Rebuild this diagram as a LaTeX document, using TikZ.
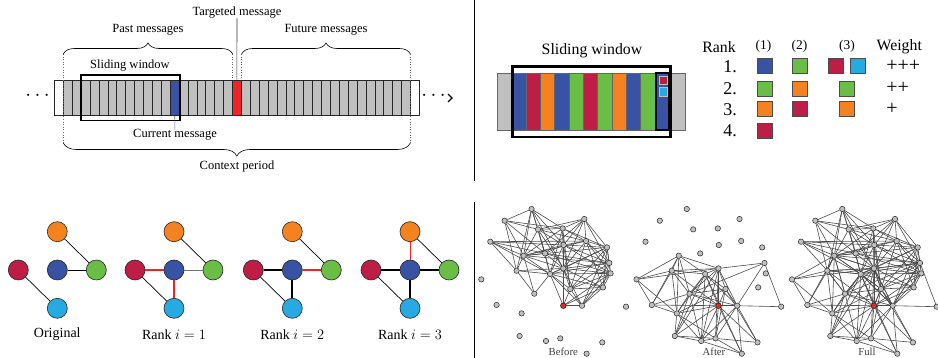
\documentclass[tikz,border=0pt]{standalone}
\usepackage{fontspec}
\setmainfont{Liberation Serif}
\usetikzlibrary{decorations.pathreplacing}

\definecolor{msgBlue}{HTML}{3953A4}
\definecolor{msgRed}{HTML}{BE1E45}
\definecolor{msgOrange}{HTML}{F58220}
\definecolor{msgGreen}{HTML}{6ABD45}
\definecolor{msgCyan}{HTML}{27AAE1}
\definecolor{msgTarget}{HTML}{EE2526}
\definecolor{msgGrey}{HTML}{C0C0C0}

\pgfdeclarelayer{edges}
\pgfsetlayers{edges,main}

% node positions of the message graph, relative to the targeted message
\def\netNodes{1/-31.7/-96.7, 2/-58.7/-85, 3/21/-86.7, 4/-25.3/-76.3, 5/-0.7/-77.3,
  6/-73/-64, 7/22.7/-64.7, 8/0.3/-60.7, 9/43.7/-58.3, 10/-39.7/-50, 11/-18.3/-52.3,
  12/46/-42.7, 13/-46.7/-35, 14/0/-37.3, 15/-13.3/-31.7, 16/47.3/-32.3, 17/-82/-26.3,
  18/7/-16.7, 19/39.7/-18.3, 20/-29/-12, 21/-66.7/-0.7, 22/0/0, 23/18.7/0, 24/62.7/1,
  25/-41.7/7.7, 26/-43.7/30.3, 27/-17.3/35.3, 28/-3/32.7, 29/39/36.7, 30/23.3/48}

% edges before and after the ranking
\def\beforeEdges{1/2, 1/4, 1/5, 1/10, 1/13, 1/11, 1/8, 1/14,
  2/4, 2/5, 2/10, 2/13, 2/11,
  3/4, 3/5, 3/7, 3/8, 3/9, 3/14, 3/12, 3/11,
  4/5, 4/10, 4/11, 4/8, 4/7, 4/14, 4/15,
  5/7, 5/8, 5/9, 5/10, 5/14, 5/15, 5/18,
  6/10, 6/13, 6/8, 6/7, 6/11, 6/15,
  7/8, 7/9, 7/12, 7/16, 7/14, 7/10, 7/18, 7/19,
  8/9, 8/10, 8/11, 8/14, 8/15, 8/18, 8/12, 8/16, 8/22,
  9/12, 9/16, 9/19, 9/14, 9/15, 9/18, 9/23, 9/10,
  10/11, 10/13, 10/14, 10/15, 10/20, 10/12,
  11/14, 11/15, 11/12, 11/16,
  12/14, 12/16, 12/18, 12/19, 12/23, 12/15,
  13/14, 13/15, 13/20,
  14/15, 14/16, 14/18, 14/19, 14/22, 14/23,
  15/20, 15/22, 15/18, 15/19, 15/16, 15/23,
  16/18, 16/19, 16/23, 16/22,
  18/19, 18/22, 18/23, 19/23, 19/22, 22/23}
\def\afterEdges{17/10, 17/13, 17/14, 17/21, 17/25,
  10/13, 10/14, 10/15, 10/25, 10/20, 10/21,
  13/14, 13/15, 13/20, 13/21, 13/25, 13/22,
  12/14, 12/23, 12/24, 12/20,
  14/15, 14/18, 14/20, 14/22, 14/23, 14/26, 14/27, 14/28,
  15/18, 15/20, 15/22, 15/23, 15/25, 15/26, 15/27, 15/30,
  18/20, 18/22, 18/23, 18/28, 18/29, 18/25,
  20/22, 20/23, 20/25, 20/26, 20/27,
  21/22, 21/25, 21/20,
  22/23, 22/25, 22/26, 22/27, 22/28, 22/29, 22/30,
  23/24, 23/29, 23/30, 23/27, 23/28,
  25/26, 25/27, 25/28, 26/27, 26/28, 27/28, 27/30, 28/29, 28/30}

\begin{document}
\begin{tikzpicture}[x=1pt, y=-1pt,
    lblA/.style={font=\fontsize{12.5}{14}\selectfont, inner sep=0pt},
    lblB/.style={font=\fontsize{15.8}{18}\selectfont, inner sep=0pt},
    lblC/.style={font=\fontsize{14}{16}\selectfont, inner sep=0pt},
    lblD/.style={font=\fontsize{10.7}{12}\selectfont, inner sep=0pt, text=black!75},
    cell/.style={draw=black!85, fill=msgGrey, line width=0.5pt, minimum width=8.9pt,
      minimum height=35.7pt, inner sep=0pt},
    wcell/.style={draw=black!60, line width=0.5pt, minimum width=14.33pt,
      minimum height=57.4pt, inner sep=0pt},
    sq/.style={draw=black!70, line width=0.5pt, minimum size=15pt, inner sep=0pt},
    mini/.style={draw=black!25, line width=0.6pt, minimum size=8.3pt, inner sep=0pt},
    msgBrace/.style={decorate, decoration={brace, amplitude=11pt}, line width=0.6pt},
    dotLine/.style={dotted, black!60, line width=0.6pt},
    cnode/.style={circle, draw=black!85, line width=0.6pt, minimum size=20pt, inner sep=0pt},
    thinE/.style={line width=0.7pt},
    thickE/.style={line width=1.8pt},
    hotE/.style={msgTarget, line width=1.8pt},
    netNode/.style={circle, draw=black!85, fill=msgGrey, line width=0.5pt,
      minimum size=5.4pt, inner sep=0pt},
    netEdge/.style={black!70, line width=0.6pt}]
  \useasboundingbox (0,0) rectangle (938,358);

  % Define the positions of the braces
  \coordinate (pastL) at (63.3,54);
  \coordinate (pastR) at (232.7,54);
  \coordinate (futL) at (241.6,54);
  \coordinate (futR) at (410.4,54);
  \coordinate (ctxL) at (63.3,143);
  \coordinate (ctxR) at (410.4,143);

  % Draw the message stream
  \node[cell, fill=white] (wl) at (58.8,97.85) {};
  \node[cell, fill=white] (wr) at (414.85,97.85) {};
  \foreach \i in {0,...,38}
    \node[cell] (c\i) at ({67.75+8.9*\i},97.85) {};
  \node[cell, fill=msgBlue] (cur) at ({67.75+8.9*12},97.85) {};
  \node[cell, fill=msgTarget] (tgt) at ({67.75+8.9*19},97.85) {};
  \node[draw, line width=1.6pt, minimum width=99pt, minimum height=45.4pt,
    inner sep=0pt] (win) at (130.5,98) {};
  \node[lblA, font=\fontsize{20}{20}\selectfont] (ldots) at (37.5,96) {$\cdots$};
  \node[lblA, font=\fontsize{20}{20}\selectfont] (rdots) at (433.5,96) {$\cdots$};
  \draw[line width=1.4pt] (448,94) -- (452,98) -- (448,102);

  % Draw the braces and the labels
  \draw[msgBrace] (pastL) -- (pastR);
  \draw[msgBrace] (futL) -- (futR);
  \draw[msgBrace, decoration={amplitude=13pt}] (ctxR) -- (ctxL);
  \draw[dotLine] (pastL) -- (ctxL);
  \draw[dotLine] (futR) -- (ctxR);
  \draw[dotLine] (pastR) -- (pastR |- c0.north);
  \draw[dotLine] (futL) -- (futL |- c0.north);
  \node[lblA] (pastLbl) at (148,30) {Past messages};
  \node[lblA] (futLbl) at (326,30) {Future messages};
  \node[lblA] (ctxLbl) at (237,166) {Context period};
  \node[lblA] (winLbl) at (130,66) {Sliding window};
  \node[lblA] (tgtLbl) at (237,12.5) {Targeted message};
  \node[lblA] (curLbl) at (175,135) {Current message};
  \draw[black!80, line width=0.6pt] (tgtLbl) -- (tgt);
  \draw[black!60, line width=0.6pt] (cur) -- (curLbl);

  % Draw the separators
  \draw[line width=1.2pt] (474.3,0) -- (474.3,180.7);
  \draw[line width=1.2pt] (474.3,201.7) -- (474.3,358);

  % Draw the coloured sliding window
  \node[wcell, fill=msgGrey, minimum width=187.3pt] (swBg) at (591.35,102) {};
  \foreach \col [count=\i from 0] in {msgBlue, msgRed, msgOrange, msgBlue, msgGreen,
      msgRed, msgGreen, msgOrange, msgBlue, msgGreen}
    \node[wcell, fill=\col] (w\i) at ({518.87+14.33*\i},102) {};
  \node[wcell, draw=black, line width=1.5pt, fill=msgBlue, minimum width=13.2pt,
    minimum height=57pt] (wCur) at (662.5,101.7) {};
  \node[mini, fill=msgRed] (mRed) at (663.5,80.2) {};
  \node[mini, fill=msgCyan] (mCyan) at (663.5,91.7) {};
  \node[draw, line width=2.6pt, minimum width=158pt, minimum height=70.7pt,
    inner sep=0pt] (bigWin) at (591.35,101.7) {};
  \node[lblB] (bigWinLbl) at (592,50.7) {Sliding window};

  % Draw the rank table
  \node[lblB] (rankHd) at (719,46.7) {Rank};
  \node[lblA, font=\fontsize{13.4}{15}\selectfont] (hd1) at (763.5,46.7) {(1)};
  \node[lblA, font=\fontsize{13.4}{15}\selectfont] (hd2) at (799.5,46.7) {(2)};
  \node[lblA, font=\fontsize{13.4}{15}\selectfont] (hd3) at (847,46.7) {(3)};
  \node[lblB] (weightHd) at (899.3,46.7) {Weight};
  \foreach \r/\y in {1/67, 2/88.5, 3/109.5, 4/131}
    \node[lblB, font=\fontsize{18}{20}\selectfont, anchor=east] (row\r) at (737,\y) {\r.};
  \node[sq, fill=msgBlue] (s11) at (764.3,66) {};
  \node[sq, fill=msgGreen] (s12) at (800,66) {};
  \node[sq, fill=msgRed] (s13) at (835.7,66) {};
  \node[sq, fill=msgCyan] (s14) at (857.7,66) {};
  \node[sq, fill=msgGreen] (s21) at (764.3,88.3) {};
  \node[sq, fill=msgOrange] (s22) at (800,88.3) {};
  \node[sq, fill=msgGreen] (s23) at (846.7,88.3) {};
  \node[sq, fill=msgOrange] (s31) at (764.3,109) {};
  \node[sq, fill=msgRed] (s32) at (800,109) {};
  \node[sq, fill=msgOrange] (s33) at (846.7,109) {};
  \node[sq, fill=msgRed] (s41) at (764.3,130.7) {};
  \node[lblB, font=\fontsize{20}{20}\selectfont, anchor=west] (wt1) at (886.2,66) {+++};
  \node[lblB, font=\fontsize{20}{20}\selectfont, anchor=west] (wt2) at (886.2,88) {++};
  \node[lblB, font=\fontsize{20}{20}\selectfont, anchor=west] (wt3) at (886.2,109) {+};

  % Draw the small graphs
  \foreach \g/\x in {1/57.3, 2/174, 3/292.3, 4/410} {
    \node[cnode, fill=msgBlue] (bl\g) at (\x,270) {};
    \node[cnode, fill=msgOrange] (or\g) at (\x,231.7) {};
    \node[cnode, fill=msgRed] (rd\g) at ({\x-39},270) {};
    \node[cnode, fill=msgGreen] (gr\g) at ({\x+39},270) {};
    \node[cnode, fill=msgCyan] (cy\g) at (\x,308.3) {};
  }
  \node[lblC] (gl1) at (57.3,334.3) {Original};
  \node[lblC] (gl2) at (174,334.3) {Rank $i=1$};
  \node[lblC] (gl3) at (292.3,334.3) {Rank $i=2$};
  \node[lblC] (gl4) at (410,334.3) {Rank $i=3$};
  % original
  \draw[thinE] (or1) -- (gr1);
  \draw[thinE] (bl1) -- (gr1);
  \draw[thinE] (rd1) -- (cy1);
  % rank 1
  \draw[thinE] (or2) -- (gr2);
  \draw[thinE, black!55] (bl2) -- (gr2);
  \draw[thinE] (rd2) -- (cy2);
  \draw[hotE] (rd2) -- (bl2);
  \draw[hotE] (bl2) -- (cy2);
  % rank 2
  \draw[thinE] (or3) -- (gr3);
  \draw[thinE] (rd3) -- (cy3);
  \draw[thickE] (rd3) -- (bl3);
  \draw[thickE] (bl3) -- (cy3);
  \draw[hotE, line width=1.2pt] (bl3) -- (gr3);
  % rank 3
  \draw[thinE] (or4) -- (gr4);
  \draw[thinE] (rd4) -- (cy4);
  \draw[thickE] (rd4) -- (bl4);
  \draw[thickE] (bl4) -- (cy4);
  \draw[thickE] (bl4) -- (gr4);
  \draw[hotE, line width=0.9pt] (bl4) -- (or4);

  % Draw the message graphs
  \foreach \n/\dx/\dy in \netNodes {
    \foreach \g/\x in {b/563.3, a/718.5, f/874}
      \node[netNode] (\g\n) at ({\x+(\dx)},{305.7+(\dy)}) {};
  }
  \foreach \g/\x in {b/563.3, a/718.5, f/874}
    \node[netNode, fill=msgTarget] (\g22) at (\x,305.7) {};
  \begin{pgfonlayer}{edges}
    \foreach \u/\v in \beforeEdges {
      \draw[netEdge] (b\u) -- (b\v);
      \draw[netEdge] (f\u) -- (f\v);
    }
    \foreach \u/\v in \afterEdges {
      \draw[netEdge] (a\u) -- (a\v);
      \draw[netEdge] (f\u) -- (f\v);
    }
  \end{pgfonlayer}
  \node[lblD] (beforeLbl) at (563.3,352) {Before};
  \node[lblD] (afterLbl) at (714,351.5) {After};
  \node[lblD] (fullLbl) at (867,351.5) {Full};
\end{tikzpicture}
\end{document}
